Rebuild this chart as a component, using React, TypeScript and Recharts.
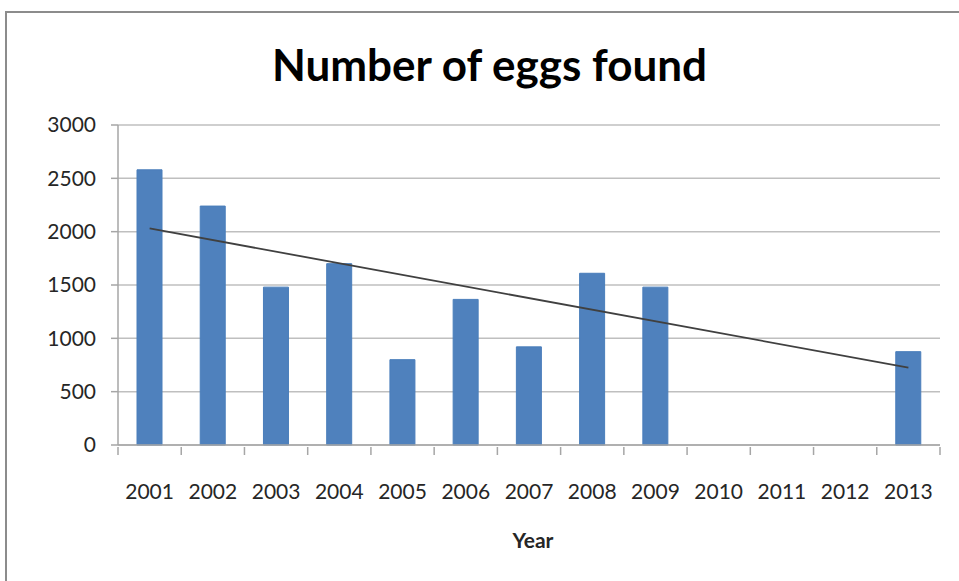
import { Bar, CartesianGrid, ComposedChart, Line, XAxis, YAxis } from "recharts"

const years = ["2001", "2002", "2003", "2004", "2005", "2006", "2007", "2008", "2009", "2010", "2011", "2012", "2013"]
const eggs = [2580, 2240, 1480, 1700, 800, 1365, 920, 1610, 1480, null, null, null, 875]
// trend line only known at its two ends
const trend = [2030, null, null, null, null, null, null, null, null, null, null, null, 725]
const yTicks = [0, 500, 1000, 1500, 2000, 2500, 3000]

const data = years.map((year, i) => ({ year, eggs: eggs[i], trend: trend[i] }))

const W = 959
const H = 581
const M = { top: 125, right: 19, bottom: 0, left: 0 }
const X_AXIS_H = 136
const Y_AXIS_W = 118
const HALF_BAND = (W - M.right - Y_AXIS_W) / years.length / 2
const FONT = "Lato, 'Open Sans', sans-serif"

function YearTick(props: any) {
  const { x, y, payload, index } = props
  const last = index === years.length - 1
  return (
    <g>
      <line x1={x - HALF_BAND} x2={x - HALF_BAND} y1={y - 8} y2={y} stroke="#a6a6a6" strokeWidth={1.5} />
      {last && <line x1={x + HALF_BAND} x2={x + HALF_BAND} y1={y - 8} y2={y} stroke="#a6a6a6" strokeWidth={1.5} />}
      <text x={x} y={y + 44} textAnchor="middle" fill="#262626" fontSize={21} fontFamily={FONT}>
        {payload.value}
      </text>
    </g>
  )
}

export default function App() {
  return (
    <div style={{ position: "relative", width: W, height: H, background: "#fff" }}>
      <style>{"body{margin:0}"}</style>
      <div
        style={{
          position: "absolute",
          left: 5,
          top: 11,
          right: 0,
          bottom: 0,
          borderTop: "2px solid #8c8c8c",
          borderLeft: "2px solid #8c8c8c",
        }}
      />
      <div
        style={{
          position: "absolute",
          top: 38,
          left: 10,
          width: W,
          textAlign: "center",
          fontFamily: FONT,
          fontWeight: 700,
          fontSize: 44,
          color: "#000",
        }}
      >
        Number of eggs found
      </div>
      <div
        style={{
          position: "absolute",
          top: 527,
          left: 483,
          width: 100,
          textAlign: "center",
          fontFamily: FONT,
          fontWeight: 700,
          fontSize: 21,
          color: "#262626",
        }}
      >
        Year
      </div>
      <ComposedChart width={W} height={H} data={data} margin={M} style={{ position: "absolute", top: 0, left: 0 }}>
        <CartesianGrid vertical={false} stroke="#bfbfbf" strokeWidth={1.5} />
        <XAxis
          dataKey="year"
          axisLine={{ stroke: "#a6a6a6", strokeWidth: 1.5 }}
          tickLine={false}
          tickSize={8}
          tick={<YearTick />}
          interval={0}
          height={X_AXIS_H}
        />
        <YAxis
          domain={[0, 3000]}
          ticks={yTicks}
          width={Y_AXIS_W}
          axisLine={{ stroke: "#a6a6a6", strokeWidth: 1.5 }}
          tickLine={{ stroke: "#a6a6a6", strokeWidth: 1.5 }}
          tickSize={7}
          tickMargin={15}
          tick={{ fill: "#262626", fontSize: 21, fontFamily: FONT }}
        />
        <Bar dataKey="eggs" fill="#4f81bd" stroke="#4a7ebb" barSize={25} isAnimationActive={false} />
        <Line
          dataKey="trend"
          stroke="#404040"
          strokeWidth={1.8}
          dot={false}
          connectNulls
          type="linear"
          isAnimationActive={false}
        />
      </ComposedChart>
    </div>
  )
}
